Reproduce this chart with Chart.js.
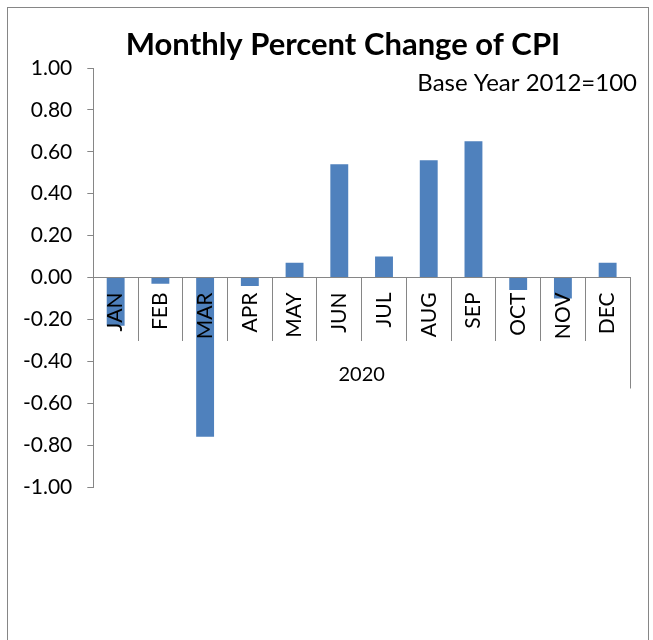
<!DOCTYPE html>
<html>
<head>
<meta charset="utf-8">
<script src="https://cdn.jsdelivr.net/npm/chart.js@4"></script>
<style>
  html, body { margin: 0; padding: 0; background: #fff; }
  #wrap { width: 653px; height: 640px; }
</style>
</head>
<body>
<div id="wrap"><canvas id="cpiChart" width="653" height="640"></canvas></div>
<script>
  var months = ["JAN", "FEB", "MAR", "APR", "MAY", "JUN", "JUL", "AUG", "SEP", "OCT", "NOV", "DEC"];
  var pctChange = [-0.23, -0.03, -0.76, -0.04, 0.07, 0.54, 0.10, 0.56, 0.65, -0.06, -0.10, 0.07];
  var yearLabel = "2020";
  var chartTitle = "Monthly Percent Change of CPI";
  var baseNote = "Base Year 2012=100";

  var FONT = "Lato, 'Open Sans', sans-serif";
  var LINE = "#868686";

  // title, note, outer frame and the group label under the months
  var decor = {
    id: "decor",
    beforeDraw: function(chart) {
      var ctx = chart.ctx;
      ctx.save();
      ctx.fillStyle = "#fff";
      ctx.fillRect(0, 0, chart.width, chart.height);
      ctx.strokeStyle = LINE;
      ctx.lineWidth = 1;
      ctx.strokeRect(7.5, 7.5, 641, 650);
      ctx.restore();
    },
    afterDraw: function(chart) {
      var ctx = chart.ctx;
      var x = chart.scales.x, y = chart.scales.y;
      var zero = y.getPixelForValue(0);
      ctx.save();
      ctx.fillStyle = "#000";
      ctx.textBaseline = "alphabetic";

      ctx.font = "bold 31px " + FONT;
      ctx.textAlign = "center";
      ctx.fillText(chartTitle, 343, 55);

      ctx.font = "24px " + FONT;
      ctx.textAlign = "right";
      ctx.fillText(baseNote, 637, 91);

      ctx.font = "20px " + FONT;
      ctx.textAlign = "center";
      ctx.fillText(yearLabel, (x.left + x.right) / 2, zero + 103);

      // the last category divider runs down past the year label
      ctx.strokeStyle = LINE;
      ctx.lineWidth = 1;
      ctx.beginPath();
      ctx.moveTo(Math.round(x.right) + 0.5, zero + 63);
      ctx.lineTo(Math.round(x.right) + 0.5, zero + 111);
      ctx.stroke();
      ctx.restore();
    }
  };

  new Chart(document.getElementById("cpiChart"), {
    type: "bar",
    data: {
      labels: months,
      datasets: [{
        label: "CPI % change",
        data: pctChange,
        backgroundColor: "#4F81BD",
        borderWidth: 0,
        categoryPercentage: 1,
        barPercentage: 0.4
      }]
    },
    options: {
      responsive: false,
      animation: false,
      layout: { padding: { left: 8, right: 23, top: 68, bottom: 153 } },
      plugins: {
        legend: { display: false },
        title: { display: false },
        tooltip: { enabled: false }
      },
      scales: {
        x: {
          position: { y: 0 },
          grid: {
            offset: true,
            drawOnChartArea: false,
            drawTicks: true,
            tickLength: 63,
            color: LINE
          },
          border: { display: true, color: LINE, z: 1 },
          ticks: {
            z: 1,
            autoSkip: false,
            minRotation: 90,
            maxRotation: 90,
            padding: -48,
            color: "#000",
            font: { family: FONT, size: 21 }
          }
        },
        y: {
          position: "left",
          min: -1,
          max: 1,
          grid: {
            drawOnChartArea: false,
            drawTicks: true,
            tickLength: 6,
            color: LINE
          },
          border: { display: true, color: LINE },
          ticks: {
            stepSize: 0.2,
            padding: 15,
            color: "#000",
            font: { family: FONT, size: 21 },
            callback: function(v) {
              if (Math.abs(v) < 1e-9) v = 0;
              return v.toFixed(2);
            }
          }
        }
      }
    },
    plugins: [decor]
  });
</script>
</body>
</html>
